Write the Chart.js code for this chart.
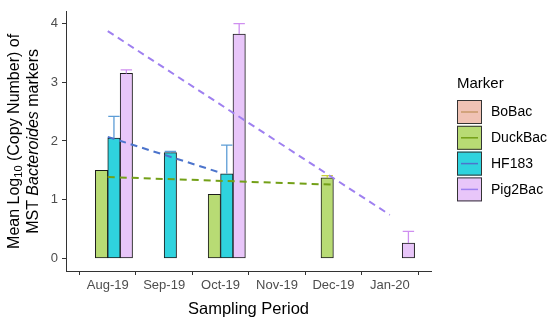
<!DOCTYPE html>
<html>
<head>
<meta charset="utf-8">
<script src="https://cdn.jsdelivr.net/npm/chart.js@4.4.1/dist/chart.umd.min.js"></script>
<style>
  html, body { margin: 0; padding: 0; background: #fff; }
</style>
</head>
<body>
<canvas id="chart" width="550" height="322"></canvas>
<script>
const months = ['Aug-19', 'Sep-19', 'Oct-19', 'Nov-19', 'Dec-19', 'Jan-20'];
const markers = ['BoBac', 'DuckBac', 'HF183', 'Pig2Bac'];

// mean log10 copy number per month, null = nothing detected
const boBac   = [null, null, null, null, null, null];
const duckBac = [1.50, null, 1.09, null, 1.37, null];
const hf183   = [2.05, 1.80, 1.44, null, null, null];
const pig2Bac = [3.15, null, 3.82, null, null, 0.26];

// top of the error bars
const boBacHi   = [null, null, null, null, null, null];
const duckBacHi = [null, null, null, null, 1.41, null];
const hf183Hi   = [2.42, 1.82, 1.93, null, null, null];
const pig2BacHi = [3.21, null, 4.00, null, null, 0.46];

const yTicks = [0, 1, 2, 3, 4];

const fills = ['#f0c2b4', '#b8db74', '#2fd3de', '#e8c6f9'];
const trendColors = ['#c9986a', '#73a017', '#4c74cc', '#9f80f0'];
const errColors = ['#e08a78', '#c8cf3c', '#5d9dd6', '#cf8ff0'];

const FONT = '"Liberation Sans", Arial, sans-serif';

const series = [boBac, duckBac, hf183, pig2Bac];
const highs = [boBacHi, duckBacHi, hf183Hi, pig2BacHi];

const toPoints = vals => vals.map((y, i) => ({ x: i, y })).filter(p => p.y !== null);

// linear fit over the months that have a value (dashed trend lines)
function fitLine(vals) {
    const pts = toPoints(vals);
    const n = pts.length;
    if (n < 2) return [];
    const mx = pts.reduce((s, p) => s + p.x, 0) / n;
    const my = pts.reduce((s, p) => s + p.y, 0) / n;
    let sxy = 0, sxx = 0;
    pts.forEach(p => { sxy += (p.x - mx) * (p.y - my); sxx += (p.x - mx) ** 2; });
    const b = sxy / sxx, a = my - b * mx;
    const x0 = pts[0].x, x1 = pts[n - 1].x;
    return [{ x: x0, y: a + b * x0 }, { x: x1, y: a + b * x1 }];
}

const barSets = markers.map((m, k) => ({
    type: 'bar',
    label: m,
    data: toPoints(series[k]),
    errHi: highs[k],
    errColor: errColors[k],
    backgroundColor: fills[k],
    borderColor: '#1c1c1c',
    borderWidth: 1,
    borderSkipped: false,
    barThickness: 12.4,
    order: 2
}));

const trendSets = markers.map((m, k) => ({
    type: 'line',
    label: m + ' trend',
    data: fitLine(series[k]),
    borderColor: trendColors[k],
    borderWidth: 2,
    borderDash: [7, 5],
    pointRadius: 0,
    fill: false,
    order: 1
}));

const errorBars = {
    id: 'errorBars',
    afterDatasetDraw(chart, args) {
        const ds = chart.data.datasets[args.index];
        if (!ds.errHi) return;
        const ctx = chart.ctx;
        const y = chart.scales.y;
        ctx.save();
        ctx.strokeStyle = ds.errColor;
        ctx.lineWidth = 1.3;
        args.meta.data.forEach((el, i) => {
            const hi = ds.errHi[ds.data[i].x];
            if (hi === null) return;
            const top = y.getPixelForValue(hi);
            const w = el.width - 1;
            ctx.beginPath();
            ctx.moveTo(el.x, el.y);
            ctx.lineTo(el.x, top);
            ctx.moveTo(el.x - w / 2, top);
            ctx.lineTo(el.x + w / 2, top);
            ctx.stroke();
        });
        ctx.restore();
    }
};

function drawRich(ctx, parts, cx, cy) {
    ctx.save();
    ctx.translate(cx, cy);
    ctx.rotate(-Math.PI / 2);
    ctx.textBaseline = 'middle';
    ctx.textAlign = 'left';
    ctx.fillStyle = '#000';
    let total = 0;
    parts.forEach(p => { ctx.font = p.font; p.w = ctx.measureText(p.text).width; total += p.w; });
    let x = -total / 2;
    parts.forEach(p => {
        ctx.font = p.font;
        ctx.fillText(p.text, x, p.dy || 0);
        x += p.w;
    });
    ctx.restore();
}

const titles = {
    id: 'titles',
    afterDraw(chart) {
        const ctx = chart.ctx;
        const area = chart.chartArea;
        const mid = (area.top + area.bottom) / 2;
        const f = '16px ' + FONT;
        drawRich(ctx, [
            { text: 'Mean Log', font: f },
            { text: '10', font: '11px ' + FONT, dy: 3.5 },
            { text: ' (Copy Number) of', font: f }
        ], 15, mid);
        drawRich(ctx, [
            { text: 'MST ', font: f },
            { text: 'Bacteroides', font: 'italic ' + f },
            { text: ' markers', font: f }
        ], 33.5, mid);

        ctx.save();
        ctx.fillStyle = '#000';
        ctx.font = '16.5px ' + FONT;
        ctx.textAlign = 'center';
        ctx.textBaseline = 'middle';
        ctx.fillText('Sampling Period', (area.left + area.right) / 2, 309);

        // legend
        ctx.textAlign = 'left';
        ctx.font = '15px ' + FONT;
        ctx.fillText('Marker', 457, 84);
        ctx.font = '14px ' + FONT;
        markers.forEach((m, k) => {
            const top = 100 + k * 25.8;
            ctx.fillStyle = fills[k];
            ctx.fillRect(457, top, 25, 24);
            ctx.strokeStyle = '#333';
            ctx.lineWidth = 1;
            ctx.strokeRect(457.5, top + 0.5, 24, 23);
            ctx.strokeStyle = trendColors[k];
            ctx.lineWidth = 1.5;
            ctx.beginPath();
            ctx.moveTo(461, top + 12);
            ctx.lineTo(478, top + 12);
            ctx.stroke();
            ctx.fillStyle = '#000';
            ctx.fillText(m, 491, top + 12.5);
        });
        ctx.restore();
    }
};

new Chart(document.getElementById('chart'), {
    type: 'bar',
    data: { datasets: [...barSets, ...trendSets] },
    options: {
        responsive: false,
        animation: false,
        devicePixelRatio: 1,
        layout: { padding: { top: 5, right: 119, bottom: 0, left: 0 } },
        plugins: { legend: { display: false }, tooltip: { enabled: false } },
        scales: {
            x: {
                type: 'linear',
                min: -0.74,
                max: 5.73,
                offset: false,
                grid: { display: true, drawOnChartArea: false, drawTicks: true, tickLength: 4, color: '#333' },
                border: { display: true, color: '#333', width: 1 },
                afterBuildTicks: s => { s.ticks = months.map((m, i) => ({ value: i })); },
                afterFit: s => { s.height = 51; },
                ticks: {
                    autoSkip: false,
                    maxRotation: 0,
                    padding: 3,
                    color: '#4d4d4d',
                    font: { family: FONT, size: 13 },
                    callback: v => months[v]
                }
            },
            y: {
                min: -0.216,
                max: 4.2,
                grid: { display: true, drawOnChartArea: false, drawTicks: true, tickLength: 4, color: '#333' },
                border: { display: true, color: '#333', width: 1 },
                afterBuildTicks: s => { s.ticks = yTicks.map(v => ({ value: v })); },
                afterFit: s => { s.width = 66; },
                ticks: {
                    padding: 4,
                    color: '#4d4d4d',
                    font: { family: FONT, size: 13 }
                }
            }
        }
    },
    plugins: [errorBars, titles]
});
</script>
</body>
</html>
